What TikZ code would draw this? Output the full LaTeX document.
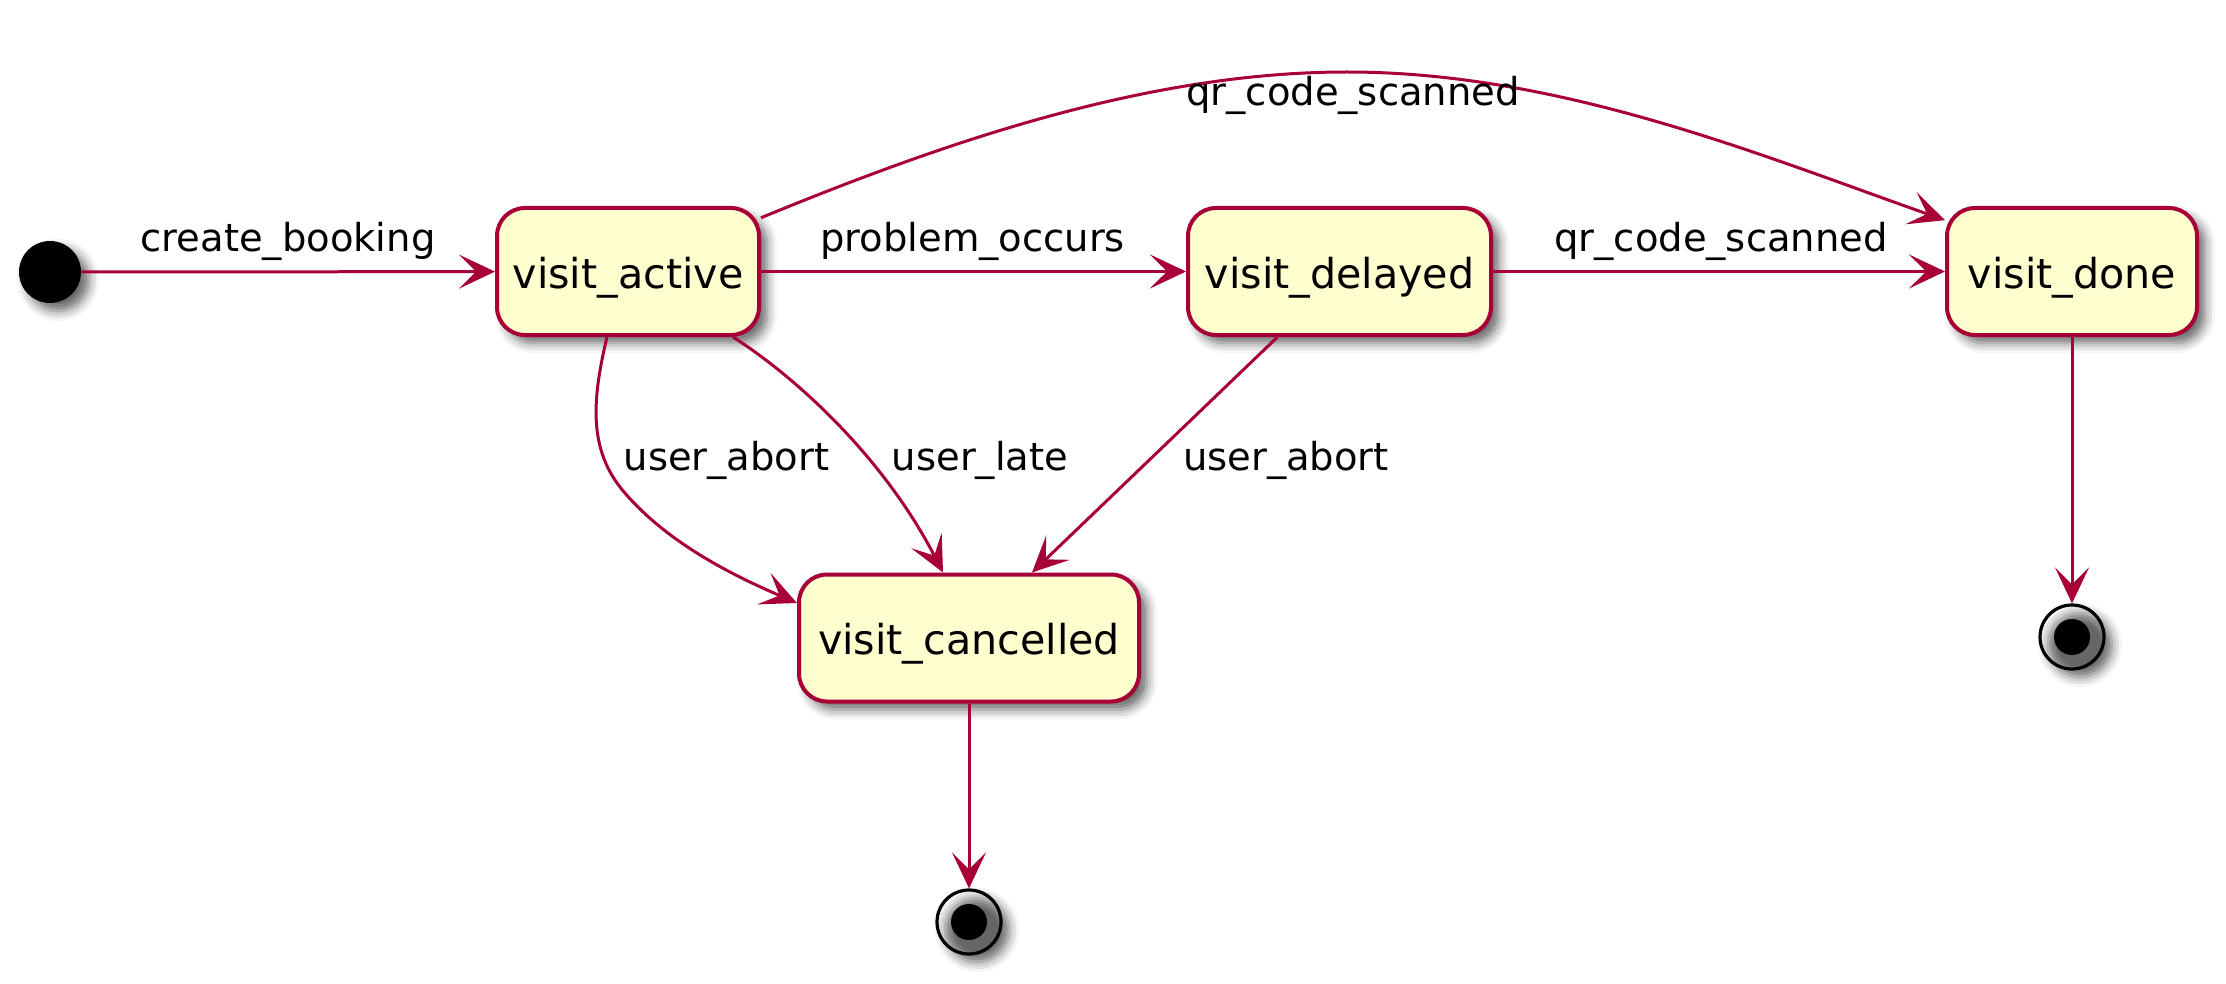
\documentclass[tikz,border=0pt]{standalone}
\usepackage{fontspec}
\setmainfont{DejaVu Sans}
\usetikzlibrary{arrows.meta,shadows.blur,calc}
\definecolor{pumlred}{HTML}{A80036}
\definecolor{pumlfill}{HTML}{FEFECE}
\begin{document}
\begin{tikzpicture}[x=0.5pt,y=-0.5pt,
  shad/.style={blur shadow={shadow xshift=4pt, shadow yshift=-4pt, shadow blur radius=5pt, shadow opacity=60}},
  statebox/.style={rectangle, rounded corners=14pt, draw=pumlred, fill=pumlfill, line width=2pt,
    minimum height=63.5pt, inner sep=0pt, font=\fontsize{20.6pt}{25pt}\selectfont,
    text height=16.5pt, text depth=0pt, shad},
  edge/.style={draw=pumlred, line width=1.5pt, -{Stealth[length=18pt,width=17pt,inset=8.5pt]}},
  lbl/.style={font=\fontsize{19.25pt}{23pt}\selectfont, anchor=base, inner sep=0pt},
  startstate/.style={circle, fill=black, minimum size=31pt, inner sep=0pt, shad},
  endstate/.style={circle, draw=black, line width=1.6pt, minimum size=32pt, inner sep=0pt, shad}]
\path[use as bounding box] (0,0) rectangle (2226,984);

% states
\node[startstate] (start) at (50,272) {};
\node[statebox, minimum width=131pt] (active) at (628,271.5) {visit\_active};
\node[statebox, minimum width=151.5pt] (delayed) at (1339.5,271.5) {visit\_delayed};
\node[statebox, minimum width=125pt] (done) at (2072,271.5) {visit\_done};
\node[statebox, minimum width=170pt] (cancelled) at (969,638) {visit\_cancelled};
\node[endstate] (end1) at (969,922) {};
\fill[black] (end1.center) circle[radius=9pt];
\node[endstate] (end2) at (2072,637) {};
\fill[black] (end2.center) circle[radius=9pt];

\coordinate (peak) at (1347,72);

% transitions
\draw[edge] (start) -- (active);
\draw[edge] (active) -- (delayed);
\draw[edge] (delayed) -- (done);
\draw[edge] (active.22) .. controls (950,140) and (1150,72) .. (peak)
  .. controls (1560,72) and (1760,155) .. (done.158);
\draw[edge] ($(active.south)+(-21,0)$) .. controls (592,400) and (588,450) .. (624,492)
  .. controls (665,540) and (725,572) .. ($(cancelled.west)+(0,-35)$);
\draw[edge] ($(active.south)+(105,0)$) .. controls (800,380) and (885,460) .. ($(cancelled.north)+(-26,0)$);
\draw[edge] ($(delayed.south)+(-62,0)$) -- ($(cancelled.north)+(63,0)$);
\draw[edge] (cancelled) -- (end1);
\draw[edge] (done) -- (end2);

% labels
\node[lbl] (l1) at (288,252) {create\_booking};
\node[lbl] (l2) at (972.5,252) {problem\_occurs};
\node[lbl] (l3) at (1721,251) {qr\_code\_scanned};
\node[lbl] (l4) at (1353,106) {qr\_code\_scanned};
\node[lbl] (l5) at (726.5,470) {user\_abort};
\node[lbl] (l6) at (980,470) {user\_late};
\node[lbl] (l7) at (1286,470) {user\_abort};
\end{tikzpicture}
\end{document}
